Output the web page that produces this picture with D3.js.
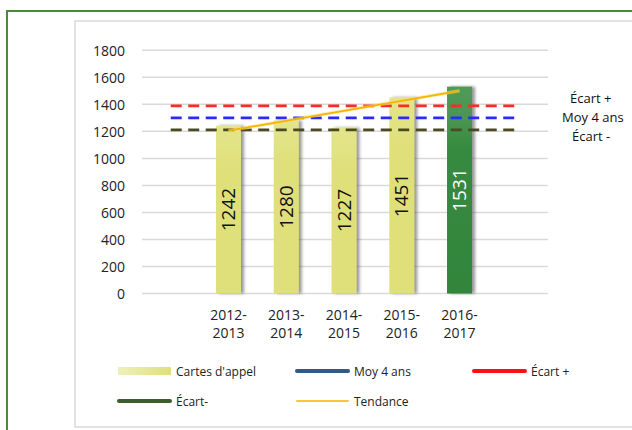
<!DOCTYPE html>
<html><head><meta charset="utf-8">
<script src="https://cdn.jsdelivr.net/npm/d3@7"></script>
<style>
body{margin:0;background:#fff;}
svg{display:block;}
text{font-family:"Open Sans","DejaVu Sans",sans-serif;}
</style></head>
<body>
<svg id="c" width="632" height="430"></svg>
<script>
// ---- data ----
const categories = [["2012-","2013"],["2013-","2014"],["2014-","2015"],["2015-","2016"],["2016-","2017"]];
const cartesAppel = [1242, 1280, 1227, 1451, 1531];
const moy4ans = 1300;
const ecartPlus = 1389;
const ecartMoins = 1211;
const tendance = [1205, 1500];   // trend line: value at first and last category
const yTicks = [0,200,400,600,800,1000,1200,1400,1600,1800];
const legendItems = ["Cartes d'appel","Moy 4 ans","Écart +","Écart-","Tendance"];

const svg = d3.select("#c");
const defs = svg.append("defs");

// outer green frame and inner chart box
svg.append("rect").attr("x",7).attr("y",11).attr("width",640).attr("height",440)
  .attr("fill","none").attr("stroke","#4a8a3c").attr("stroke-width",2);
svg.append("rect").attr("x",75).attr("y",21).attr("width",580).attr("height",406)
  .attr("fill","#fff").attr("stroke","#d9d9d9").attr("stroke-width",1.5);

const keys = categories.map(c=>c.join(""));
const x = d3.scaleBand().domain(keys).range([199.6,488.4]).paddingInner(0.567).paddingOuter(0.2835);
const y = d3.scaleLinear().domain([0,1800]).range([293.5,50.3]);
const bw = x.bandwidth(), step = x.step();

// gridlines
svg.append("g").selectAll("line").data(yTicks).join("line")
  .attr("x1",142).attr("x2",548).attr("y1",d=>y(d)).attr("y2",d=>y(d))
  .attr("stroke","#d9d9d9").attr("stroke-width",1.5);

// y axis labels
const yAxis = d3.axisLeft(y).tickValues(yTicks).tickFormat(d3.format("d")).tickSize(0).tickPadding(0);
const ga = svg.append("g").attr("transform","translate(125,0)").call(yAxis);
ga.select(".domain").remove();
ga.selectAll("text").attr("font-size",14).attr("fill","#222").attr("dy","0.35em")
  .attr("font-family","'Open Sans',sans-serif");

// gradients & shadow
const gy = defs.append("linearGradient").attr("id","gy").attr("x1",0).attr("x2",0).attr("y1",0).attr("y2",1);
gy.append("stop").attr("offset","0").attr("stop-color","#e4e58c");
gy.append("stop").attr("offset","0.25").attr("stop-color","#dfe07a");
gy.append("stop").attr("offset","1").attr("stop-color","#dfe07a");
const gg = defs.append("linearGradient").attr("id","gg").attr("x1",0).attr("x2",0).attr("y1",0).attr("y2",1);
gg.append("stop").attr("offset","0").attr("stop-color","#4f9a57");
gg.append("stop").attr("offset","0.15").attr("stop-color","#4a9652");
gg.append("stop").attr("offset","0.3").attr("stop-color","#368a40");
gg.append("stop").attr("offset","1").attr("stop-color","#32853b");
const gl = defs.append("linearGradient").attr("id","gl").attr("x1",0).attr("x2",1).attr("y1",0).attr("y2",0);
gl.append("stop").attr("offset","0").attr("stop-color","#eef0bc");
gl.append("stop").attr("offset","1").attr("stop-color","#dfe07a");
const sh = defs.append("filter").attr("id","sh").attr("x","-20%").attr("y","-5%").attr("width","160%").attr("height","110%");
sh.append("feDropShadow").attr("dx",3).attr("dy",0).attr("stdDeviation",1.6)
  .attr("flood-color","#555").attr("flood-opacity",0.6);

// bars
svg.append("g").selectAll("rect").data(cartesAppel).join("rect")
  .attr("x",(d,i)=>x(keys[i])).attr("width",bw)
  .attr("y",d=>y(d)).attr("height",d=>y(0)-y(d))
  .attr("fill",(d,i)=>i===cartesAppel.length-1?"url(#gg)":"url(#gy)")
  .attr("filter","url(#sh)");

// dashed reference lines
const xl1 = x(keys[0])+bw/2-step, xl2 = x(keys[keys.length-1])+bw/2+step;
const refs = [{v:ecartPlus,c:"#ff2a2a",label:"Écart +",lx:570,ly:103},
              {v:moy4ans,c:"#2a2aff",label:"Moy 4 ans",lx:562,ly:122},
              {v:ecartMoins,c:"#4b4a22",label:"Écart -",lx:572,ly:141}];
svg.append("g").selectAll("line").data(refs).join("line")
  .attr("x1",xl1).attr("x2",xl2).attr("y1",d=>y(d.v)).attr("y2",d=>y(d.v))
  .attr("stroke",d=>d.c).attr("stroke-width",2.6).attr("stroke-dasharray","11,6.5");

// trend line
const tl = d3.line().x(d=>d[0]).y(d=>y(d[1]));
const tpts = [[x(keys[0])+bw/2, tendance[0]],[x(keys[keys.length-1])+bw/2, tendance[1]]];
svg.append("path").attr("d",tl(tpts)).attr("fill","none").attr("stroke","#ffd866")
  .attr("stroke-width",3.5).attr("opacity",0.5);
svg.append("path").attr("d",tl(tpts)).attr("fill","none").attr("stroke","#f4b400").attr("stroke-width",1.8);

// bar value labels
svg.append("g").selectAll("text").data(cartesAppel).join("text")
  .attr("transform",(d,i)=>`translate(${x(keys[i])+bw/2+6.5},${(y(d)+y(0))/2}) rotate(-90)`)
  .attr("text-anchor","middle").attr("font-size",19)
  .attr("fill",(d,i)=>i===cartesAppel.length-1?"#fff":"#111")
  .text(d=>d);

// reference labels at right
svg.append("g").selectAll("text").data(refs).join("text")
  .attr("x",d=>d.lx).attr("y",d=>d.ly).attr("font-size",13).attr("fill","#111")
  .text(d=>d.label);

// x labels
const gx = svg.append("g");
categories.forEach((c,i)=>{
  const t = gx.append("text").attr("x",x(keys[i])+bw/2).attr("text-anchor","middle")
    .attr("font-size",14).attr("fill","#222");
  t.append("tspan").attr("x",x(keys[i])+bw/2).attr("y",320).text(c[0]);
  t.append("tspan").attr("x",x(keys[i])+bw/2).attr("y",338).text(c[1]);
});

// legend
const leg = [
  {t:legendItems[0],x:118,y:371,type:"rect"},
  {t:legendItems[1],x:296,y:371,c:"#2f5b8a",w:4},
  {t:legendItems[2],x:473,y:371,c:"#ff1010",w:4},
  {t:legendItems[3],x:118,y:401,c:"#3d5e28",w:4},
  {t:legendItems[4],x:296,y:401,c:"#ffc533",w:2}
];
const lg = svg.append("g");
leg.forEach(d=>{
  if(d.type==="rect"){
    lg.append("rect").attr("x",d.x).attr("y",d.y-4).attr("width",53).attr("height",8).attr("fill","url(#gl)");
  } else {
    lg.append("line").attr("x1",d.x+1).attr("x2",d.x+52).attr("y1",d.y).attr("y2",d.y)
      .attr("stroke",d.c).attr("stroke-width",d.w).attr("stroke-linecap","round");
  }
  lg.append("text").attr("x",d.x+58).attr("y",d.y+4.5).attr("font-size",12).attr("fill","#222")
    .text(d.t);
});
</script>
</body></html>
